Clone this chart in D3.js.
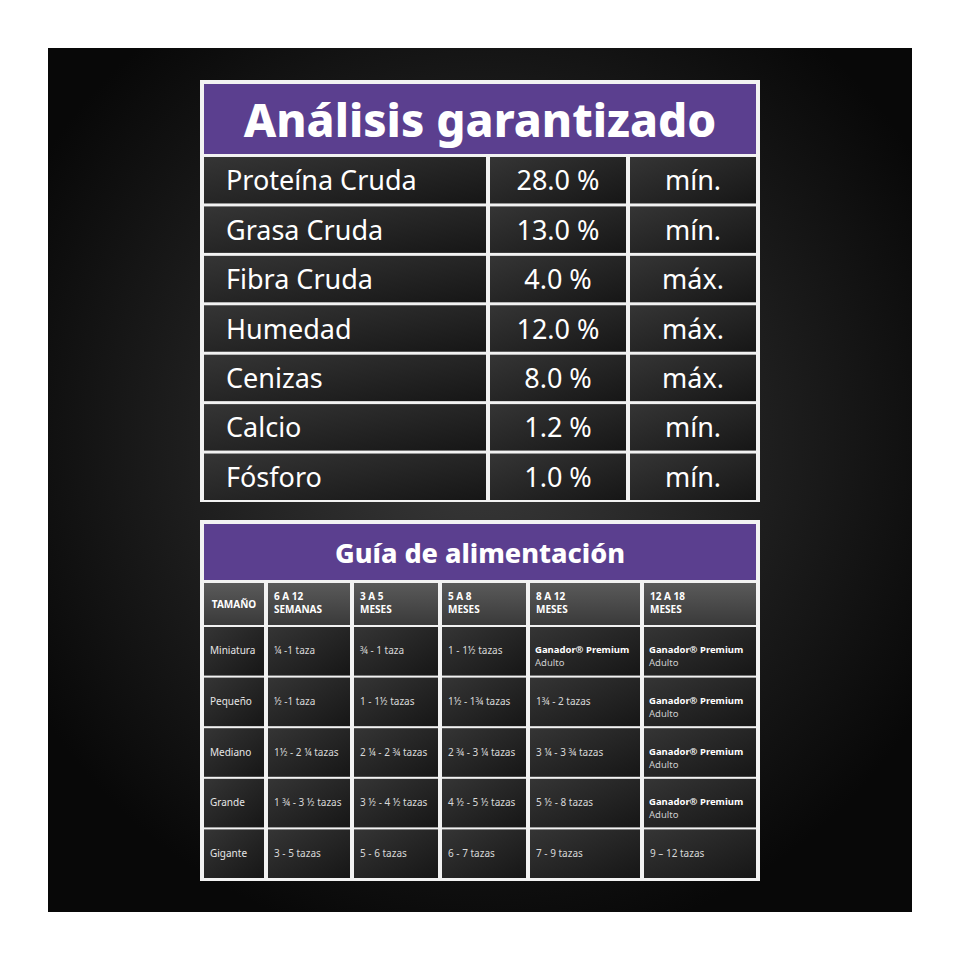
<!DOCTYPE html>
<html><head><meta charset="utf-8">
<script src="https://cdn.jsdelivr.net/npm/d3@7"></script>
<style>body{margin:0;background:#fff}</style>
</head><body>
<svg id="c" width="960" height="960"></svg>
<script>
var nutrients = ["Proteína Cruda","Grasa Cruda","Fibra Cruda","Humedad","Cenizas","Calcio","Fósforo"];
var values = ["28.0 %","13.0 %","4.0 %","12.0 %","8.0 %","1.2 %","1.0 %"];
var limits = ["mín.","mín.","máx.","máx.","máx.","mín.","mín."];

var ageCols = [["TAMAÑO"],["6 A 12","SEMANAS"],["3 A 5","MESES"],["5 A 8","MESES"],["8 A 12","MESES"],["12 A 18","MESES"]];
var sizes = ["Miniatura","Pequeño","Mediano","Grande","Gigante"];
var feed = [
  ["¼ -1 taza","¾ - 1 taza","1 - 1½ tazas","GP","GP"],
  ["½ -1 taza","1 - 1½ tazas","1½ - 1¾ tazas","1¾ - 2 tazas","GP"],
  ["1½ - 2 ¼ tazas","2 ¼ - 2 ¾ tazas","2 ¾ - 3 ¼ tazas","3 ¼ - 3 ¾ tazas","GP"],
  ["1 ¾ - 3 ½ tazas","3 ½ - 4 ½ tazas","4 ½ - 5 ½ tazas","5 ½ - 8 tazas","GP"],
  ["3 - 5 tazas","5 - 6 tazas","6 - 7 tazas","7 - 9 tazas","9 – 12 tazas"]
];

var svg = d3.select("#c");
var defs = svg.append("defs");
var bg = defs.append("radialGradient").attr("id","bg").attr("cx","50%").attr("cy","45%").attr("r","60%");
bg.append("stop").attr("offset","0%").attr("stop-color","#3a3a3a");
bg.append("stop").attr("offset","100%").attr("stop-color","#080808");
var cg = defs.append("linearGradient").attr("id","cell").attr("x1",0).attr("y1",0).attr("x2",1).attr("y2",1);
cg.append("stop").attr("offset","0%").attr("stop-color","#353535");
cg.append("stop").attr("offset","100%").attr("stop-color","#161616");
var hg = defs.append("linearGradient").attr("id","head").attr("x1",0).attr("y1",0).attr("x2",0).attr("y2",1);
hg.append("stop").attr("offset","0%").attr("stop-color","#5a5a5a");
hg.append("stop").attr("offset","100%").attr("stop-color","#3a3a3a");

svg.append("rect").attr("x",48).attr("y",48).attr("width",864).attr("height",864).attr("fill","url(#bg)");

var font = "'Noto Sans', sans-serif";
var purple = "#5b3f8f";

// top table
var t1 = svg.append("g");
t1.append("rect").attr("x",200).attr("y",80).attr("width",560).attr("height",422).attr("fill","#f2f2f2");
t1.append("rect").attr("x",204).attr("y",84).attr("width",552).attr("height",70).attr("fill",purple);
t1.append("text").attr("x",480).attr("y",137).attr("text-anchor","middle").attr("fill","#fff")
  .attr("font-family",font).attr("font-weight",800).attr("font-size",46).text("Análisis garantizado");

var y1 = d3.scaleBand().domain(d3.range(nutrients.length)).range([157,500]).paddingInner(0.06);
var cols1 = [[204,486],[490,626],[630,756]];
nutrients.forEach(function(n,i){
  var row = [n, values[i], limits[i]];
  cols1.forEach(function(c,j){
    t1.append("rect").attr("x",c[0]).attr("y",y1(i)).attr("width",c[1]-c[0]).attr("height",y1.bandwidth()).attr("fill","url(#cell)");
    t1.append("text").attr("x", j==0 ? c[0]+22 : (c[0]+c[1])/2)
      .attr("y",y1(i)+y1.bandwidth()/2+10).attr("text-anchor", j==0?"start":"middle")
      .attr("fill","#fff").attr("font-family",font).attr("font-size",27).text(row[j]);
  });
});

// bottom table
var t2 = svg.append("g");
t2.append("rect").attr("x",200).attr("y",520).attr("width",560).attr("height",361).attr("fill","#f2f2f2");
t2.append("rect").attr("x",204).attr("y",524).attr("width",552).attr("height",56).attr("fill",purple);
t2.append("text").attr("x",480).attr("y",563).attr("text-anchor","middle").attr("fill","#fff")
  .attr("font-family",font).attr("font-weight",800).attr("font-size",27).text("Guía de alimentación");

var colX = [[204,264],[268,350],[354,438],[442,526],[530,640],[644,756]];
colX.forEach(function(c,j){
  t2.append("rect").attr("x",c[0]).attr("y",583).attr("width",c[1]-c[0]).attr("height",42).attr("fill","url(#head)");
  var lines = ageCols[j];
  lines.forEach(function(l,k){
    t2.append("text").attr("x", j==0 ? (c[0]+c[1])/2 : c[0]+6)
      .attr("y", lines.length==1 ? 608 : 600+k*13).attr("text-anchor", j==0?"middle":"start")
      .attr("fill","#fff").attr("font-family",font).attr("font-weight",700).attr("font-size",10).text(l);
  });
});
var y2 = d3.scaleBand().domain(d3.range(sizes.length)).range([627,878]).paddingInner(0.04);
sizes.forEach(function(s,i){
  var yy = y2(i), h = y2.bandwidth();
  colX.forEach(function(c,j){
    t2.append("rect").attr("x",c[0]).attr("y",yy).attr("width",c[1]-c[0]).attr("height",h).attr("fill","url(#cell)");
  });
  t2.append("text").attr("x",colX[0][0]+6).attr("y",yy+h/2+3).attr("text-anchor","start")
    .attr("fill","#e6e6e6").attr("font-family",font).attr("font-size",10).text(s);
  feed[i].forEach(function(v,j){
    var c = colX[j+1];
    if (v == "GP") {
      t2.append("text").attr("x",c[0]+5).attr("y",yy+h/2+2).attr("fill","#fff").attr("font-family",font)
        .attr("font-weight",700).attr("font-size",9.5).text("Ganador® Premium");
      t2.append("text").attr("x",c[0]+5).attr("y",yy+h/2+15).attr("fill","#cfcfcf").attr("font-family",font)
        .attr("font-size",9.5).text("Adulto");
    } else {
      t2.append("text").attr("x",c[0]+6).attr("y",yy+h/2+3).attr("fill","#d8d8d8").attr("font-family",font)
        .attr("font-size",10).text(v);
    }
  });
});
</script>
</body></html>
